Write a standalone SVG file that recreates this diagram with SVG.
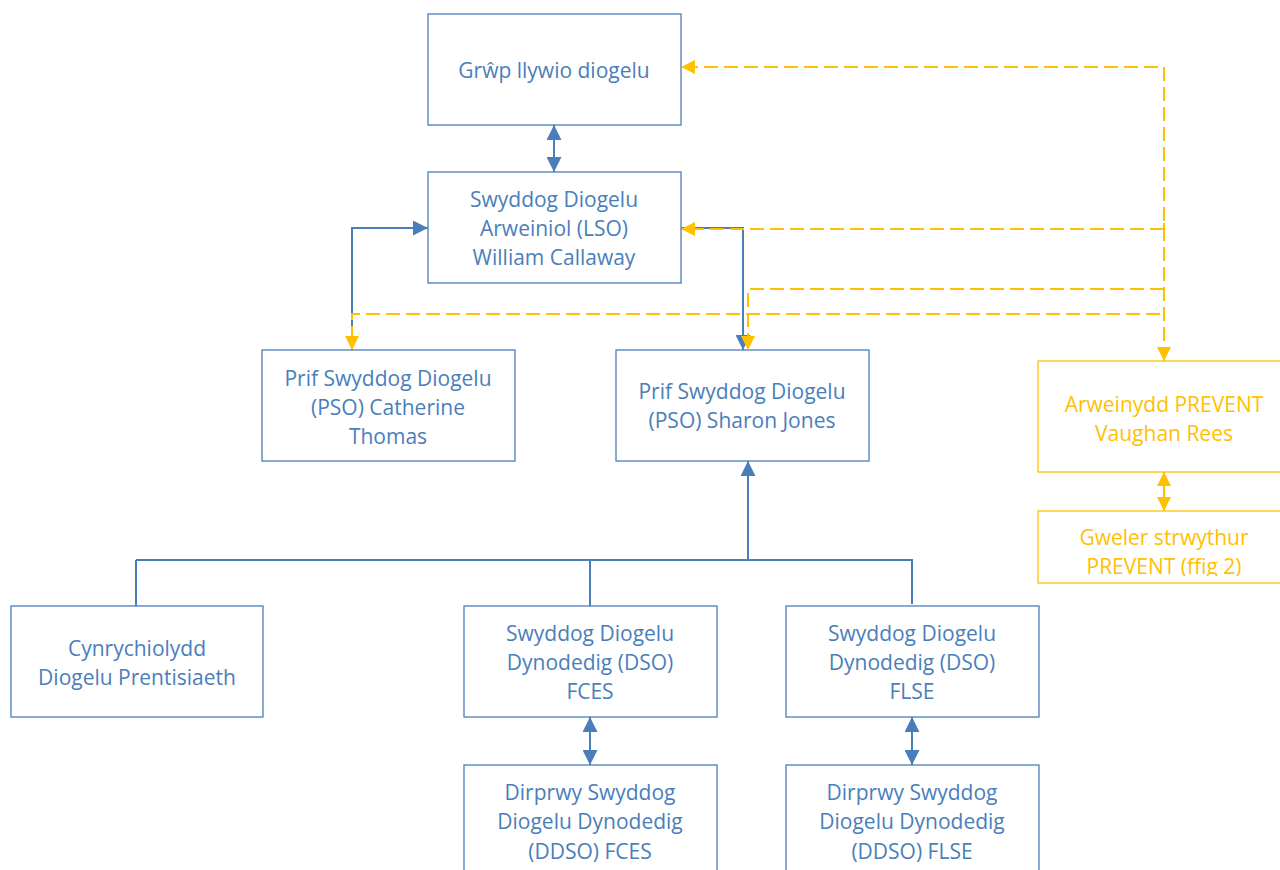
<svg xmlns="http://www.w3.org/2000/svg" width="1280" height="870" viewBox="0 0 1280 870">
<style>
.box{fill:#fff;stroke:#4a7ebb;stroke-width:1.3}
.ybox{fill:#fff;stroke:#ffc000;stroke-width:1.3}
.t{font-family:"Open Sans","Liberation Sans",sans-serif;font-size:21px;fill:#4a7ebb;text-anchor:middle}
.yt{font-family:"Open Sans","Liberation Sans",sans-serif;font-size:21px;fill:#ffc000;text-anchor:middle}
.bl{fill:none;stroke:#4a7ebb;stroke-width:2}
.yl{fill:none;stroke:#ffc000;stroke-width:2;stroke-dasharray:14 6}
.ys{fill:none;stroke:#ffc000;stroke-width:2}
</style>
<defs>
<marker id="ab" viewBox="0 0 10 10" refX="10" refY="5" markerWidth="15" markerHeight="15" markerUnits="userSpaceOnUse" orient="auto-start-reverse"><path d="M0,0 L10,5 L0,10 z" fill="#4a7ebb"/></marker>
<marker id="ay" viewBox="0 0 10 10" refX="10" refY="5" markerWidth="14" markerHeight="14" markerUnits="userSpaceOnUse" orient="auto-start-reverse"><path d="M0,0 L10,5 L0,10 z" fill="#ffc000"/></marker>
<clipPath id="gc"><rect x="1038" y="511" width="260" height="65"/></clipPath>
</defs>
<rect width="1280" height="870" fill="#fff"/>

<g id="connectors">
<line class="bl" x1="554" y1="125" x2="554" y2="172" marker-start="url(#ab)" marker-end="url(#ab)"/>
<polyline class="bl" points="352,350 352,228 428,228" marker-end="url(#ab)"/>
<polyline class="bl" points="681,228 743,228 743,350" marker-end="url(#ab)"/>
<polyline class="bl" points="748,461 748,560" marker-start="url(#ab)"/>
<line class="bl" x1="136" y1="560" x2="913" y2="560"/>
<line class="bl" x1="136" y1="560" x2="136" y2="606"/>
<line class="bl" x1="590" y1="560" x2="590" y2="606"/>
<line class="bl" x1="912" y1="560" x2="912" y2="604"/>
<line class="bl" x1="590" y1="717" x2="590" y2="765" marker-start="url(#ab)" marker-end="url(#ab)"/>
<line class="bl" x1="912" y1="717" x2="912" y2="765" marker-start="url(#ab)" marker-end="url(#ab)"/>
<polyline class="yl" points="1164,361 1164,67 681,67" marker-start="url(#ay)" marker-end="url(#ay)"/>
<polyline class="yl" points="1164,229 681,229" marker-end="url(#ay)"/>
<line class="ys" x1="1164" y1="223" x2="1164" y2="235"/>
<polyline class="yl" points="1164,289 748,289 748,350" marker-end="url(#ay)"/>
<polyline class="yl" points="1160,314 352,314 352,350" marker-end="url(#ay)"/>
<line class="ys" x1="1164" y1="472" x2="1164" y2="511" marker-start="url(#ay)" marker-end="url(#ay)"/>
</g>

<g id="n-grwp"><rect class="box" x="428" y="14" width="253" height="111"/><text class="t" x="554" y="78">Grŵp llywio diogelu</text></g>
<g id="n-lso"><rect class="box" x="428" y="172" width="253" height="111"/><text class="t" x="554" y="207">Swyddog Diogelu</text><text class="t" x="554" y="236">Arweiniol (LSO)</text><text class="t" x="554" y="265">William Callaway</text></g>
<g id="n-pso-ct"><rect class="box" x="262" y="350" width="253" height="111"/><text class="t" x="388" y="386">Prif Swyddog Diogelu</text><text class="t" x="388" y="415">(PSO) Catherine</text><text class="t" x="388" y="444">Thomas</text></g>
<g id="n-pso-sj"><rect class="box" x="616" y="350" width="253" height="111"/><text class="t" x="742" y="399">Prif Swyddog Diogelu</text><text class="t" x="742" y="428">(PSO) Sharon Jones</text></g>
<g id="n-prevent"><rect class="ybox" x="1038" y="361" width="253" height="111"/><text class="yt" x="1164" y="412">Arweinydd PREVENT</text><text class="yt" x="1164" y="441">Vaughan Rees</text></g>
<g id="n-gweler"><rect class="ybox" x="1038" y="511" width="253" height="72"/><g clip-path="url(#gc)"><text class="yt" x="1164" y="545">Gweler strwythur</text><text class="yt" x="1164" y="574">PREVENT (ffig 2)</text></g></g>
<g id="n-cynr"><rect class="box" x="11" y="606" width="252" height="111"/><text class="t" x="137" y="656">Cynrychiolydd</text><text class="t" x="137" y="685">Diogelu Prentisiaeth</text></g>
<g id="n-dso-fces"><rect class="box" x="464" y="606" width="253" height="111"/><text class="t" x="590" y="641">Swyddog Diogelu</text><text class="t" x="590" y="670">Dynodedig (DSO)</text><text class="t" x="590" y="699">FCES</text></g>
<g id="n-dso-flse"><rect class="box" x="786" y="606" width="253" height="111"/><text class="t" x="912" y="641">Swyddog Diogelu</text><text class="t" x="912" y="670">Dynodedig (DSO)</text><text class="t" x="912" y="699">FLSE</text></g>
<g id="n-ddso-fces"><rect class="box" x="464" y="765" width="253" height="120"/><text class="t" x="590" y="800">Dirprwy Swyddog</text><text class="t" x="590" y="829">Diogelu Dynodedig</text><text class="t" x="590" y="859">(DDSO) FCES</text></g>
<g id="n-ddso-flse"><rect class="box" x="786" y="765" width="253" height="120"/><text class="t" x="912" y="800">Dirprwy Swyddog</text><text class="t" x="912" y="829">Diogelu Dynodedig</text><text class="t" x="912" y="859">(DDSO) FLSE</text></g>
</svg>
